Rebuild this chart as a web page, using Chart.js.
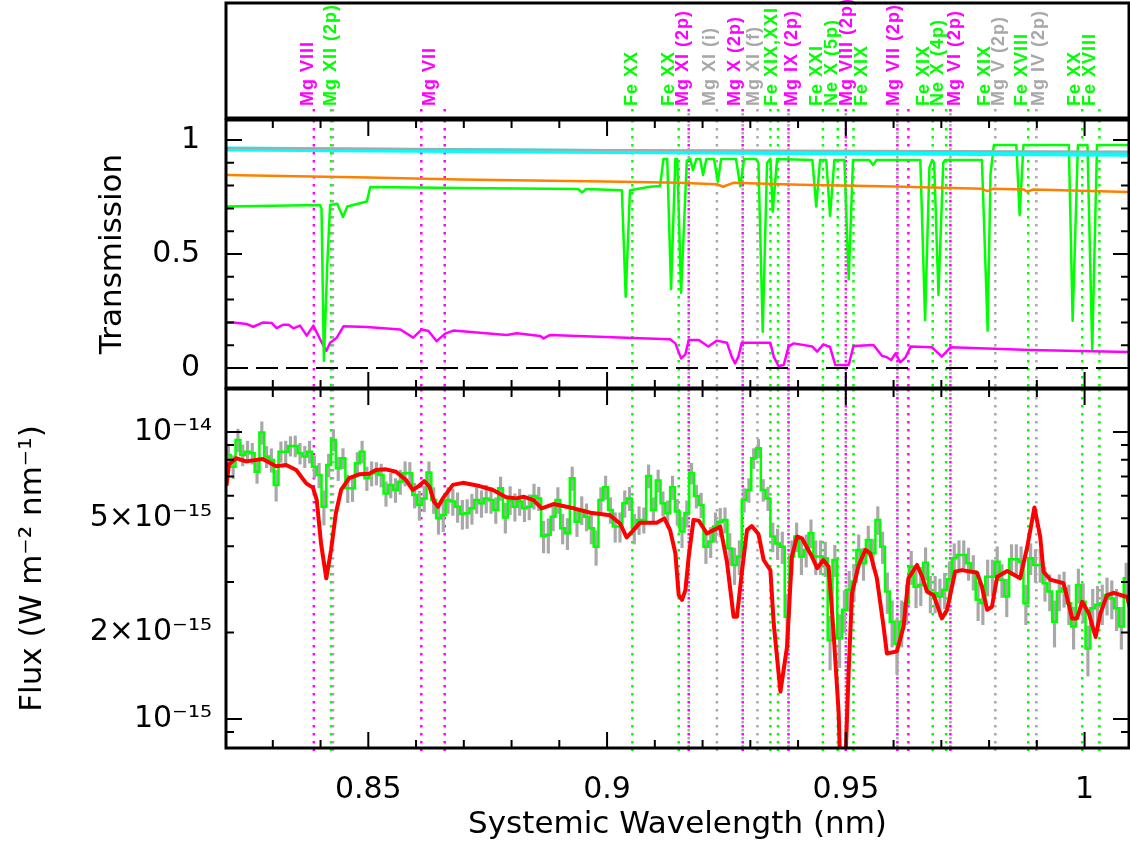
<!DOCTYPE html>
<html>
<head>
<meta charset="utf-8">
<script src="https://cdn.jsdelivr.net/npm/chart.js@4.4.1/dist/chart.umd.min.js"></script>
<style>
  body { margin: 0; background: #fff; }
  #wrap { position: relative; width: 1130px; height: 844px; }
  canvas { position: absolute; left: 0; }
</style>
</head>
<body>
<div id="wrap">
  <canvas id="labels" width="1130" height="120" style="top:0px"></canvas>
  <canvas id="trans" width="1130" height="272" style="top:118px"></canvas>
  <canvas id="flux" width="1130" height="458" style="top:386px"></canvas>
</div>
<script>
const xMin = 0.8202, xMax = 1.0093;

// line identifications (dotted verticals)
const lineWl   = [0.8386, 0.8422, 0.8426, 0.8611, 0.8660, 0.9053, 0.9150, 0.9171, 0.9230, 0.9284, 0.9315, 0.9342, 0.9358, 0.9380,
                  0.9452, 0.9483, 0.9500, 0.9516, 0.9608, 0.9631, 0.9682, 0.9710, 0.9719, 0.9813, 0.9882, 0.9899, 0.9995, 1.0031];
const lineKind = ['magenta','green','grey','magenta','magenta','green','green','magenta2p','grey','magenta2p','grey','green','green','magenta2p',
                  'green','green','magenta2p','green','magenta2p','magenta','green','green','magenta2p','grey','green','grey','green','green'];

// labels in the top panel
const labelWl   = [0.8373, 0.8422, 0.8629, 0.9052, 0.9129, 0.9160, 0.9216, 0.9268, 0.9307, 0.9345, 0.9387, 0.9440, 0.9471,
                   0.9502, 0.9534, 0.9600, 0.9663, 0.9694, 0.9729, 0.9792, 0.9820, 0.9869, 0.9904, 0.9981, 1.0012];
const labelText = ['Mg VIII','Mg XII (2p)','Mg VII','Fe XX','Fe XX','Mg XI (2p)','Mg XI (i)','Mg X (2p)','Mg XI (f)','Fe XIX,XXI',
                   'Mg IX (2p)','Fe XXI','Ne X (5p)','Mg VIII (2p)','Fe XIX','Mg VII (2p)','Fe XIX','Ne X (4p)','Mg VI (2p)',
                   'Fe XIX','Mg V (2p)','Fe XVIII','Mg IV (2p)','Fe XX','Fe XVIII'];
const labelKind = ['magenta','green','magenta','green','green','magenta','grey','magenta','grey','green','magenta','green','green',
                   'magenta','green','magenta','green','green','magenta','green','grey','green','grey','green','green'];

// transmission curves
const greyWl = [0.8202, 0.9000, 1.0094];
const greyT  = [0.965, 0.956, 0.949];
const cyanWl = [0.8202, 0.9000, 1.0094];
const cyanT  = [0.960, 0.949, 0.938];
const orangeWl = [0.8202, 0.8500, 0.8692, 0.9031, 0.9150, 0.9230, 0.9243, 0.9264, 0.9405, 0.9600, 0.9785, 0.9796, 0.9808, 0.9872, 0.9880, 0.9893, 1.0094];
const orangeT  = [0.846, 0.835, 0.827, 0.817, 0.812, 0.806, 0.795, 0.812, 0.804, 0.796, 0.786, 0.776, 0.786, 0.783, 0.774, 0.783, 0.772];
const greenWl = [0.8202, 0.8399, 0.8402, 0.8407, 0.8414, 0.8420, 0.8435, 0.8447, 0.8456, 0.8497, 0.8504, 0.8692, 0.8939, 0.8948, 0.8956,
                 0.9031, 0.9039, 0.9048, 0.9090, 0.9111, 0.9118, 0.9126, 0.9134, 0.9143, 0.9147, 0.9155, 0.9167, 0.9174, 0.9180, 0.9187,
                 0.9195, 0.9201, 0.9208, 0.9224, 0.9232, 0.9239, 0.9270, 0.9279, 0.9287, 0.9312, 0.9317, 0.9326, 0.9335, 0.9342, 0.9347,
                 0.9356, 0.9430, 0.9438, 0.9446, 0.9459, 0.9467, 0.9476, 0.9497, 0.9506, 0.9515, 0.9549, 0.9557, 0.9564, 0.9656, 0.9666,
                 0.9675, 0.9681, 0.9685, 0.9694, 0.9704, 0.9708, 0.9785, 0.9797, 0.9803, 0.9810, 0.9857, 0.9864, 0.9872, 0.9967, 0.9975,
                 0.9986, 1.0006, 1.0016, 1.0026, 1.0094];
const greenT  = [0.708, 0.715, 0.700, 0.032, 0.450, 0.715, 0.720, 0.662, 0.708, 0.730, 0.794, 0.790, 0.785, 0.770, 0.785,
                 0.780, 0.313, 0.780, 0.795, 0.798, 0.917, 0.917, 0.346, 0.917, 0.917, 0.330, 0.910, 0.917, 0.868, 0.917,
                 0.917, 0.846, 0.917, 0.917, 0.817, 0.917, 0.917, 0.796, 0.917, 0.917, 0.900, 0.159, 0.900, 0.917, 0.686,
                 0.917, 0.912, 0.708, 0.912, 0.912, 0.667, 0.912, 0.912, 0.389, 0.912, 0.912, 0.890, 0.912, 0.912, 0.210,
                 0.880, 0.912, 0.900, 0.320, 0.900, 0.912, 0.912, 0.164, 0.850, 0.978, 0.978, 0.671, 0.978, 0.978, 0.207,
                 0.978, 0.978, 0.082, 0.978, 0.978];
const magentaWl = [0.8202, 0.8217, 0.8245, 0.8259, 0.8280, 0.8298, 0.8308, 0.8322, 0.8333, 0.8343, 0.8357, 0.8371, 0.8385, 0.8399, 0.8412,
                   0.8420, 0.8434, 0.8448, 0.8497, 0.8567, 0.8594, 0.8612, 0.8626, 0.8643, 0.8661, 0.8678, 0.8790, 0.8811, 0.8860, 0.8867,
                   0.8881, 0.9069, 0.9132, 0.9143, 0.9155, 0.9164, 0.9171, 0.9192, 0.9212, 0.9230, 0.9251, 0.9261, 0.9268, 0.9275, 0.9282,
                   0.9342, 0.9349, 0.9359, 0.9370, 0.9380, 0.9391, 0.9430, 0.9440, 0.9453, 0.9467, 0.9478, 0.9506, 0.9516, 0.9558, 0.9576,
                   0.9586, 0.9595, 0.9604, 0.9614, 0.9625, 0.9636, 0.9680, 0.9701, 0.9719, 0.9796, 0.9886, 1.0094];
const magentaT  = [0.200, 0.200, 0.193, 0.181, 0.200, 0.197, 0.175, 0.190, 0.190, 0.174, 0.186, 0.142, 0.186, 0.126, 0.075,
                   0.111, 0.133, 0.183, 0.180, 0.169, 0.133, 0.169, 0.162, 0.118, 0.151, 0.164, 0.145, 0.152, 0.140, 0.130,
                   0.145, 0.130, 0.126, 0.108, 0.042, 0.060, 0.123, 0.123, 0.094, 0.120, 0.111, 0.050, 0.020, 0.050, 0.111,
                   0.111, 0.050, 0.009, 0.013, 0.094, 0.108, 0.094, 0.072, 0.104, 0.092, 0.013, 0.013, 0.096, 0.101, 0.053,
                   0.047, 0.035, 0.064, 0.025, 0.047, 0.094, 0.091, 0.050, 0.091, 0.085, 0.079, 0.070];

// observed spectrum, flux in units of 1e-15 W m^-2 nm^-1, bins of 0.001 nm
const binStart = 0.8202, binWidth = 0.001;
const obsFlux = [
  8.32,7.57,9.38,8.32,8.54,8.43,7.27,9.95,8.21,7.99, 6.54,8.54,8.54,8.94,8.94,8.43,8.21,8.54,7.57,7.08,
  5.49,7.67,9.38,7.47,8.10,6.37,6.37,7.78,8.54,6.90, 7.18,7.18,7.08,6.11,6.54,6.28,6.71,7.18,7.18,6.03,
  5.57,5.87,7.22,5.80,5.00,5.14,5.80,5.72,5.49,5.18, 5.21,5.42,5.80,5.64,5.87,5.80,5.35,6.37,5.04,5.80,
  5.49,5.72,5.42,
  5.49,5.98,5.87,4.34,4.38,5.07,5.80,4.62,4.44,6.90, 4.87,5.35,5.07,4.62,3.98,5.80,6.42,5.35,4.68,4.68,
  5.64,5.87,4.62,4.94,4.94,7.03,5.35,6.77,5.64,5.21, 6.42,5.28,4.50,5.21,7.18,5.98,5.57,3.98,4.15,4.68,
  4.87,4.94,3.93,3.44,3.68,5.80,6.28,8.10,8.77,6.28, 5.87,4.32,4.09,3.98,2.27,3.68,4.32,3.68,3.88,4.44,
  3.68,3.68,3.63,
  1.88,3.58,1.91,2.40,2.82,3.01,3.88,3.49,4.20,3.78, 4.94,3.98,2.78,2.18,1.83,2.18,2.53,3.39,2.89,2.93,
  3.50,2.74,2.74,2.67,2.82,3.07,3.63,3.73,3.73,3.49, 3.26,2.60,2.53,3.13,3.13,3.53,3.05,2.67,3.60,3.60,
  3.53,2.53,3.63,3.44,3.44,2.97,2.78,2.18,2.78,2.85, 2.53,2.10,2.93,2.56,1.76,2.43,2.50,2.53,2.70,2.63,
  2.43,2.10,3.09];
const obsErr = [
  0.75,0.70,0.85,0.70,0.75,0.70,0.65,0.90,0.70,0.75, 0.80,0.70,0.75,0.70,0.75,0.70,0.70,0.75,0.65,0.70,
  0.75,0.70,0.80,0.70,0.65,0.70,0.65,0.70,0.75,0.65, 0.70,0.65,0.65,0.60,0.65,0.60,0.65,0.70,0.65,0.60,
  0.65,0.60,0.65,0.60,0.60,0.65,0.60,0.60,0.65,0.60, 0.60,0.65,0.60,0.60,0.65,0.60,0.55,0.60,0.60,0.65,
  0.60,0.60,0.55,
  0.55,0.60,0.55,0.55,0.60,0.55,0.60,0.55,0.55,0.65, 0.55,0.60,0.55,0.55,0.55,0.60,0.60,0.55,0.55,0.55,
  0.60,0.55,0.55,0.55,0.50,0.65,0.55,0.60,0.55,0.55, 0.60,0.55,0.55,0.55,0.60,0.55,0.55,0.50,0.50,0.55,
  0.55,0.50,0.50,0.50,0.50,0.55,0.60,0.65,0.65,0.55, 0.55,0.50,0.50,0.50,0.45,0.50,0.50,0.50,0.50,0.50,
  0.50,0.50,0.50,
  0.40,0.45,0.40,0.40,0.45,0.45,0.50,0.45,0.50,0.45, 0.55,0.50,0.45,0.40,0.40,0.40,0.40,0.45,0.45,0.45,
  0.45,0.40,0.40,0.40,0.40,0.45,0.45,0.45,0.45,0.45, 0.45,0.40,0.40,0.45,0.45,0.45,0.40,0.40,0.45,0.45,
  0.45,0.40,0.45,0.45,0.45,0.40,0.40,0.40,0.40,0.40, 0.40,0.35,0.40,0.40,0.35,0.40,0.40,0.40,0.40,0.40,
  0.40,0.35,0.40];

// model spectrum (red)
const modelWl = [0.8203, 0.8208, 0.8223, 0.8244, 0.8279, 0.8307, 0.8328, 0.8349, 0.8370, 0.8384, 0.8392, 0.8401, 0.8412, 0.8422, 0.8432,
  0.8443, 0.8460, 0.8481, 0.8502, 0.8516, 0.8537, 0.8558, 0.8579, 0.8593, 0.8604, 0.8617, 0.8628, 0.8638, 0.8646, 0.8656,
  0.8677, 0.8698, 0.8733, 0.8761, 0.8789, 0.8810, 0.8825, 0.8846, 0.8863, 0.8888, 0.8930, 0.8965, 0.9006, 0.9027, 0.9041,
  0.9052, 0.9069, 0.9104, 0.9120, 0.9132, 0.9143, 0.9150, 0.9157, 0.9164, 0.9171, 0.9181, 0.9192, 0.9209, 0.9223, 0.9237,
  0.9251, 0.9265, 0.9272, 0.9282, 0.9293, 0.9303, 0.9317, 0.9328, 0.9342, 0.9349, 0.9363, 0.9377, 0.9387, 0.9398, 0.9408,
  0.9429, 0.9440, 0.9453, 0.9464, 0.9474, 0.9485, 0.9488, 0.9499, 0.9506, 0.9513, 0.9527, 0.9541, 0.9551, 0.9565, 0.9579,
  0.9586, 0.9607, 0.9621, 0.9631, 0.9649, 0.9660, 0.9670, 0.9684, 0.9701, 0.9712, 0.9729, 0.9743, 0.9775, 0.9785, 0.9796,
  0.9806, 0.9817, 0.9838, 0.9865, 0.9880, 0.9895, 0.9907, 0.9914, 0.9928, 0.9956, 0.9974, 0.9984, 0.9995, 1.0009, 1.0023,
  1.0033, 1.0047, 1.0061, 1.0089, 1.0096];
const modelFlux = [6.5, 7.7, 8.1, 7.9, 8.05, 7.6, 7.67, 7.37, 6.62, 6.4, 5.8, 4.09, 3.09, 3.88, 5.2,
  6.28, 6.9, 7.12, 7.15, 7.37, 7.41, 7.27, 6.8, 6.28, 6.45, 6.74, 6.45, 5.7, 5.49, 5.87,
  6.54, 6.65, 6.48, 6.28, 5.92, 5.87, 5.95, 5.79, 5.42, 5.61, 5.42, 5.23, 5.13, 4.8, 4.29,
  4.49, 4.83, 4.83, 5.0, 4.55, 3.78, 2.7, 2.6, 2.81, 3.68, 4.94, 4.91, 4.43, 4.55, 4.67,
  3.53, 2.27, 2.27, 3.22, 4.55, 4.7, 4.41, 3.58, 3.3, 2.15, 1.245, 1.79, 3.68, 4.32, 4.26,
  3.68, 3.35, 3.58, 3.39, 2.04, 1.05, 0.7, 0.7, 1.48, 2.74, 3.44, 3.88, 3.78, 3.09, 2.1,
  1.69, 1.72, 2.1, 3.09, 3.44, 3.13, 2.78, 2.7, 2.24, 2.4, 3.26, 3.3, 3.23, 2.89, 2.4,
  2.46, 3.13, 3.28, 3.09, 3.98, 5.46, 4.32, 3.26, 3.06, 2.97, 2.24, 2.24, 2.56, 2.33, 1.93,
  2.33, 2.7, 2.75, 2.66, 2.4];

// tick labels
const xTickValues = [0.85, 0.9, 0.95, 1];
const xTickLabels = ['0.85', '0.9', '0.95', '1'];
const transTickValues = [0, 0.5, 1];
const transTickLabels = ['0', '0.5', '1'];
const fluxTicks = [0.9, 1, 2, 3, 4, 5, 6, 7, 8, 9, 10];
const fluxTickValues = [1, 2, 5, 10];
const fluxTickLabels = ['10\u207B\u00B9\u2075', '2\u00D710\u207B\u00B9\u2075', '5\u00D710\u207B\u00B9\u2075', '10\u207B\u00B9\u2074'];

const colours = { green: '#00ff00', magenta: '#ff00ff', magenta2p: '#ff00ff', grey: '#a8a8a8' };

const near = (a, b) => Math.abs(a - b) < 1e-6;
const pickLabel = (vals, labels) => v => {
  const i = vals.findIndex(t => near(t, v));
  return i < 0 ? '' : labels[i];
};
const pts = (xs, ys) => xs.map((x, i) => ({ x, y: ys[i] }));

Chart.defaults.font.family = '"DejaVu Sans", sans-serif';
Chart.defaults.color = '#000';

const axisFont = { size: 30 };
const titleFont = { size: 31 };

const majorTest = {
  x: v => near(v * 20, Math.round(v * 20)),
  trans: v => near(v * 2, Math.round(v * 2)),
  flux: v => near(v, 1) || near(v, 10)
};

// box round each panel, with inward ticks
const frame = {
  id: 'frame',
  afterDraw(chart, args, o) {
    const { ctx, chartArea: a } = chart;
    ctx.save();
    ctx.strokeStyle = '#000';
    if (o.kind) {
      const xs = chart.scales.x, ys = chart.scales.y;
      ctx.lineWidth = 2;
      ctx.beginPath();
      xs.ticks.forEach(t => {
        const p = xs.getPixelForValue(t.value);
        const len = majorTest.x(t.value) ? 16 : 8;
        ctx.moveTo(p, a.top); ctx.lineTo(p, a.top + len);
        ctx.moveTo(p, a.bottom); ctx.lineTo(p, a.bottom - len);
      });
      ys.ticks.forEach(t => {
        const p = ys.getPixelForValue(t.value);
        if (p < a.top || p > a.bottom) return;
        const len = majorTest[o.kind](t.value) ? 16 : 8;
        ctx.moveTo(a.left, p); ctx.lineTo(a.left + len, p);
        ctx.moveTo(a.right, p); ctx.lineTo(a.right - len, p);
      });
      ctx.stroke();
    }
    ctx.lineWidth = 3;
    ctx.strokeRect(a.left, a.top, a.right - a.left, a.bottom - a.top);
    ctx.restore();
  }
};

// dotted vertical markers at the line wavelengths
const lineMarks = {
  id: 'lineMarks',
  beforeDatasetsDraw(chart, args, o) {
    const { ctx, chartArea: a, scales: { x } } = chart;
    const y0 = o.stub ? a.bottom - 9 : a.top, y1 = a.bottom + (o.stub ? 0 : 3);
    ctx.save();
    ctx.lineWidth = 2.5;
    ctx.setLineDash([2.5, 5.5]);
    lineWl.forEach((wl, i) => {
      const p = x.getPixelForValue(wl);
      const kind = lineKind[i];
      if (kind === 'magenta2p') {
        ctx.lineDashOffset = 4;
        ctx.strokeStyle = colours.grey;
        ctx.beginPath(); ctx.moveTo(p, y0); ctx.lineTo(p, y1); ctx.stroke();
      }
      ctx.lineDashOffset = 0;
      ctx.strokeStyle = colours[kind];
      ctx.beginPath(); ctx.moveTo(p, y0); ctx.lineTo(p, y1); ctx.stroke();
    });
    ctx.restore();
  }
};

const lineLabels = {
  id: 'lineLabels',
  afterDraw(chart) {
    const { ctx, chartArea: a, scales: { x } } = chart;
    ctx.save();
    ctx.font = 'bold 18px "Liberation Sans", sans-serif';
    ctx.letterSpacing = '1px';
    ctx.textAlign = 'left';
    ctx.textBaseline = 'middle';
    labelWl.forEach((wl, i) => {
      ctx.save();
      ctx.translate(x.getPixelForValue(wl), a.bottom - 12);
      ctx.rotate(-Math.PI / 2);
      ctx.fillStyle = colours[labelKind[i]];
      ctx.fillText(labelText[i], 0, 0);
      ctx.restore();
    });
    ctx.restore();
  }
};

const xHidden = { type: 'linear', min: xMin, max: xMax, display: false, offset: false,
                  ticks: { stepSize: 0.01, includeBounds: false } };
const base = { responsive: false, animation: false, events: [], maintainAspectRatio: false };

// top panel: line labels
new Chart(document.getElementById('labels'), {
  type: 'line',
  data: { datasets: [] },
  options: {
    ...base,
    layout: { padding: { left: 226, right: 1, top: 3, bottom: 2 } },
    scales: { x: xHidden, y: { display: false, min: 0, max: 1 } },
    plugins: { legend: { display: false }, tooltip: { enabled: false }, frame: {}, lineMarks: { stub: true } }
  },
  plugins: [lineMarks, lineLabels, frame]
});

const lineSet = (data, color, width, order, extra) => Object.assign({
  data, borderColor: color, borderWidth: width, pointRadius: 0, fill: false, tension: 0,
  borderJoinStyle: 'round', order
}, extra || {});

// middle panel: transmission
new Chart(document.getElementById('trans'), {
  type: 'line',
  data: {
    datasets: [
      lineSet(pts([xMin, xMax], [0, 0]), '#000', 2, 6, { borderDash: [22, 8] }),
      lineSet(pts(magentaWl, magentaT), '#ff00ff', 2.5, 5),
      lineSet(pts(greenWl, greenT), '#00ff00', 2.5, 4),
      lineSet(pts(orangeWl, orangeT), '#ff8000', 2.5, 3),
      lineSet(pts(cyanWl, cyanT), '#00ffff', 5, 2),
      lineSet(pts(greyWl, greyT), '#a8a8a8', 2, 1)
    ]
  },
  options: {
    ...base,
    layout: { padding: { left: 0, right: 1, top: 2, bottom: 2 } },
    scales: {
      x: xHidden,
      y: {
        type: 'linear', min: -0.0877, max: 1.0877,
        grid: { display: false, drawTicks: false }, border: { display: false },
        ticks: { stepSize: 0.1, includeBounds: false, autoSkip: false, padding: 26, font: axisFont,
                 callback: pickLabel(transTickValues, transTickLabels) },
        title: { display: true, text: 'Transmission', font: titleFont, padding: { top: 94, bottom: 0 } },
        afterFit: s => { s.width = 226; s.paddingTop = 0; s.paddingBottom = 0; }
      }
    },
    plugins: { legend: { display: false }, tooltip: { enabled: false }, frame: { kind: 'trans' }, lineMarks: {} }
  },
  plugins: [lineMarks, frame]
});

// bottom panel: flux
const binCentre = obsFlux.map((_, i) => binStart + (i + 0.5) * binWidth);
new Chart(document.getElementById('flux'), {
  type: 'line',
  data: {
    datasets: [
      lineSet(pts(modelWl, modelFlux), '#ff0000', 4, 1),
      lineSet(pts(binCentre, obsFlux), '#00ff00', 2.5, 2, { stepped: 'middle', borderJoinStyle: 'miter' }),
      { type: 'bar', data: binCentre.map((c, i) => ({ x: c, y: [obsFlux[i] - obsErr[i], obsFlux[i] + obsErr[i]] })),
        backgroundColor: '#a8a8a8', barThickness: 2.5, order: 3 }
    ]
  },
  options: {
    ...base,
    layout: { padding: { left: 0, right: 1, top: 3, bottom: 0 } },
    scales: {
      x: {
        type: 'linear', min: xMin, max: xMax, offset: false,
        grid: { display: false, drawTicks: false }, border: { display: false },
        ticks: { stepSize: 0.01, includeBounds: false, autoSkip: false, maxRotation: 0, padding: 24, font: axisFont,
                 callback: pickLabel(xTickValues, xTickLabels) },
        title: { display: true, text: 'Systemic Wavelength (nm)', font: titleFont, padding: { top: 0, bottom: 0 } },
        afterFit: s => { s.height = 96; s.paddingLeft = 0; s.paddingRight = 0; }
      },
      y: {
        type: 'logarithmic', min: 0.792, max: 14.12,
        grid: { display: false, drawTicks: false }, border: { display: false },
        afterBuildTicks: s => { s.ticks = fluxTicks.map(v => ({ value: v })); },
        ticks: { autoSkip: false, padding: 14, font: axisFont, callback: pickLabel(fluxTickValues, fluxTickLabels) },
        title: { display: true, text: 'Flux (W m\u207B\u00B2 nm\u207B\u00B9)', font: titleFont, padding: { top: 14, bottom: 0 } },
        afterFit: s => { s.width = 226; s.paddingTop = 0; s.paddingBottom = 0; }
      }
    },
    plugins: { legend: { display: false }, tooltip: { enabled: false }, frame: { kind: 'flux' }, lineMarks: {} }
  },
  plugins: [lineMarks, frame]
});
</script>
</body>
</html>
